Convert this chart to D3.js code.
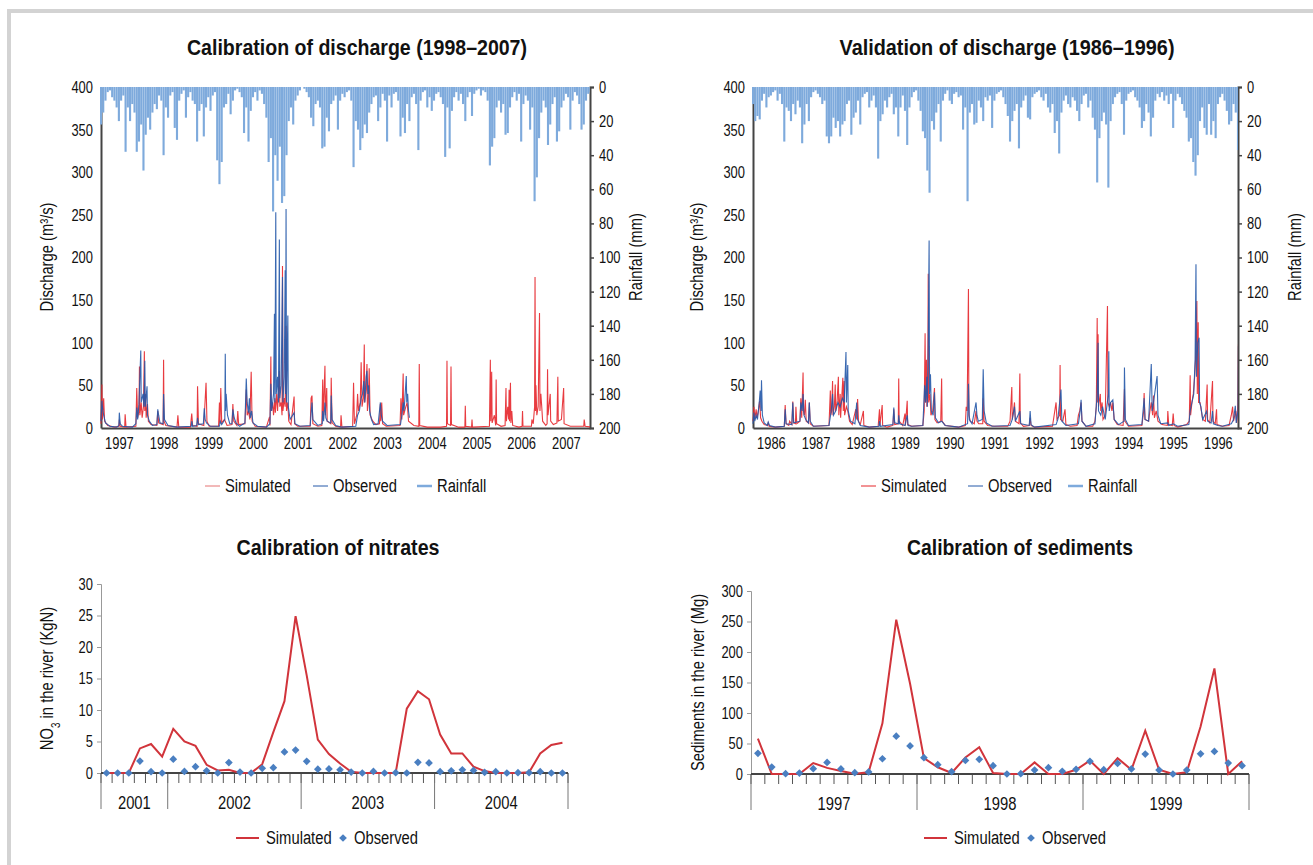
<html>
<head>
<meta charset="utf-8">
<script src="https://cdnjs.cloudflare.com/ajax/libs/d3/7.8.5/d3.min.js"></script>
<style>
  body { margin: 0; background: #fff; }
  text { font-family: "Liberation Sans", Arial, sans-serif; fill: #111; }
  .title { font-weight: bold; font-size: 22px; }
  .tick text { font-size: 17px; }
  .lab { font-size: 18px; }
</style>
</head>
<body>
<script>
// ---------- data: discharge panels ----------
var calYears = [1997, 1998, 1999, 2000, 2001, 2002, 2003, 2004, 2005, 2006, 2007];
var valYears = [1986, 1987, 1988, 1989, 1990, 1991, 1992, 1993, 1994, 1995, 1996];
var qTicks = [0, 50, 100, 150, 200, 250, 300, 350, 400];
var rainTicks = [0, 20, 40, 60, 80, 100, 120, 140, 160, 180, 200];

// rainfall (mm), one value every 0.05 year from the start
var rainCalStart = 1996.6;
var rainCal = [22,15,8,3,2,6,8,12,
  20,8,5,38,12,20,10,15,38,32,22,49,28,18,25,15,10,13,5,8,
  40,12,18,5,3,24,31,8,4,2,18,6,3,8,10,32,14,10,29,12,
  6,14,5,3,43,57,44,12,10,4,16,8,2,1,3,6,27,12,32,14,
  6,3,8,2,4,10,18,44,30,73,40,55,35,68,64,40,20,12,22,8,
  5,2,0,1,3,6,18,23,10,8,12,36,35,18,26,10,8,5,25,8,
  4,6,3,2,8,47,20,25,37,30,22,27,15,10,6,5,20,12,4,8,
  32,5,12,4,3,8,29,18,27,10,20,6,4,10,37,8,3,2,12,6,
  14,8,4,3,6,10,41,12,36,14,6,3,8,4,10,20,6,3,17,4,
  2,1,5,2,3,8,46,35,30,12,8,15,10,28,27,12,6,3,8,4,
  32,10,5,8,25,12,67,53,30,15,8,12,34,22,10,6,32,26,12,8,
  4,6,25,8,3,5,10,25,22,8,4,3,12,20,22];
var rainValStart = 1985.6;
var rainVal = [10,20,17,19,8,4,12,6,
  5,3,2,8,4,10,32,12,14,20,10,16,8,12,33,22,10,20,6,3,
  2,4,6,10,8,29,33,29,18,24,20,29,22,20,10,8,28,18,15,8,
  22,6,4,3,12,8,5,12,42,20,16,8,12,6,4,16,12,29,12,5,
  14,34,12,6,3,2,8,14,26,30,49,62,20,25,15,10,32,8,4,2,
  8,10,4,3,6,5,25,12,67,15,10,22,21,8,12,20,6,8,5,24,
  8,4,3,2,6,10,17,32,20,14,10,36,12,8,5,18,19,6,4,3,
  2,6,8,4,12,15,10,27,20,39,15,8,5,10,12,6,8,14,20,10,
  5,4,12,8,18,25,56,30,20,15,22,59,20,10,6,4,3,10,28,8,
  4,3,2,6,8,12,24,20,10,15,29,18,8,4,6,3,8,5,10,4,
  24,8,4,6,10,14,18,32,30,44,52,40,20,12,24,28,10,28,20,30,
  10,6,4,8,14,22,20,10,15,37,35];

// discharge (m3/s) digitised as [decimal year, value]
var simCal = [[1996.60,5],[1996.62,51],[1996.63,10],[1996.66,35],[1996.68,8],[1996.75,3],[1996.9,1],
  [1997.0,2],[1997.01,10],[1997.03,2],[1997.13,1],[1997.14,16],[1997.16,1],
  [1997.38,2],[1997.40,47],[1997.42,12],[1997.45,20],[1997.46,72],[1997.47,15],[1997.50,30],[1997.52,12],[1997.55,25],[1997.57,90],[1997.58,20],[1997.60,40],[1997.61,12],[1997.64,28],[1997.66,8],[1997.72,4],
  [1997.85,3],[1997.87,20],[1997.89,6],[1997.99,4],[1998.0,80],[1998.01,8],[1998.05,3],[1998.3,1],[1998.32,15],[1998.34,1],
  [1998.60,1],[1998.63,17],[1998.65,3],[1998.75,2],[1998.76,49],[1998.78,5],[1998.9,3],[1998.95,53],[1998.97,8],[1999.02,2],
  [1999.23,2],[1999.25,30],[1999.26,5],[1999.28,47],[1999.30,6],[1999.36,10],[1999.38,8],[1999.42,3],
  [1999.53,4],[1999.55,28],[1999.57,8],[1999.64,3],[1999.66,20],[1999.68,4],
  [1999.82,5],[1999.85,45],[1999.87,15],[1999.90,20],[1999.93,10],[1999.96,66],[1999.98,8],[2000.05,2],
  [2000.3,1],[2000.37,13],[2000.38,3],[2000.40,84],[2000.41,20],[2000.44,30],[2000.46,15],[2000.49,35],[2000.50,18],[2000.53,40],[2000.55,20],[2000.59,67],[2000.60,25],[2000.63,30],[2000.65,15],[2000.66,190],[2000.67,20],[2000.70,35],[2000.72,25],[2000.74,120],[2000.75,20],[2000.78,30],[2000.80,8],[2000.85,4],[2000.92,37],[2000.93,5],[2001.0,2],
  [2001.28,2],[2001.30,35],[2001.32,38],[2001.34,5],[2001.45,2],
  [2001.54,3],[2001.56,57],[2001.57,10],[2001.61,73],[2001.62,15],[2001.65,47],[2001.66,8],[2001.74,5],[2001.75,59],[2001.77,6],[2001.85,2],
  [2001.96,1],[2001.97,15],[2001.99,1],
  [2002.23,2],[2002.25,53],[2002.27,5],[2002.32,15],[2002.34,40],[2002.36,20],[2002.40,30],[2002.42,77],[2002.44,25],[2002.47,35],[2002.49,98],[2002.50,30],[2002.53,45],[2002.55,75],[2002.56,20],[2002.58,30],[2002.60,70],[2002.62,15],[2002.68,8],[2002.75,4],[2002.83,5],[2002.85,28],[2002.86,8],[2002.88,30],[2002.90,5],[2002.98,2],
  [2003.29,3],[2003.31,35],[2003.33,10],[2003.36,64],[2003.37,15],[2003.42,25],[2003.45,30],[2003.48,8],[2003.6,3],
  [2003.71,2],[2003.72,75],[2003.73,3],[2003.9,1],[2004.2,1],
  [2004.33,2],[2004.34,79],[2004.35,5],[2004.42,3],[2004.43,72],[2004.44,4],[2004.6,1],
  [2004.74,1],[2004.75,26],[2004.76,2],[2004.89,1],[2004.90,10],[2004.91,1],
  [2005.29,2],[2005.31,80],[2005.32,8],[2005.34,66],[2005.35,6],[2005.40,15],[2005.43,3],[2005.44,57],[2005.45,5],[2005.55,2],
  [2005.64,3],[2005.66,47],[2005.67,8],[2005.70,25],[2005.72,10],[2005.73,45],[2005.74,8],[2005.76,53],[2005.77,6],[2005.79,20],[2005.81,3],[2005.95,1],
  [2006.02,2],[2006.03,20],[2006.04,2],[2006.23,2],[2006.24,10],[2006.27,5],[2006.30,25],[2006.31,177],[2006.32,20],[2006.33,50],[2006.35,15],[2006.38,25],[2006.41,135],[2006.42,20],[2006.44,40],[2006.46,25],[2006.48,8],[2006.55,3],
  [2006.58,5],[2006.59,69],[2006.60,15],[2006.62,25],[2006.65,40],[2006.66,8],[2006.72,4],[2006.80,6],[2006.82,60],[2006.83,8],[2006.90,10],[2006.95,47],[2006.96,5],[2007.1,2],
  [2007.40,2],[2007.41,10],[2007.43,2],[2007.60,1]];
var obsCal = [[1996.60,8],[1996.62,32],[1996.63,25],[1996.66,15],[1996.70,6],[1996.8,2],[1996.95,1],
  [1997.0,3],[1997.01,18],[1997.03,5],[1997.08,2],[1997.3,1],
  [1997.38,5],[1997.40,24],[1997.42,10],[1997.45,28],[1997.47,60],[1997.49,91],[1997.50,30],[1997.54,40],[1997.56,25],[1997.58,79],[1997.59,25],[1997.63,49],[1997.64,15],[1997.68,8],[1997.75,3],
  [1997.85,4],[1997.87,22],[1997.89,15],[1997.92,6],[1997.99,5],[1998.0,40],[1998.02,10],[1998.1,3],[1998.3,1],
  [1998.62,2],[1998.63,8],[1998.65,2],[1998.74,3],[1998.76,12],[1998.78,4],[1998.89,5],[1998.91,23],[1998.93,10],[1998.96,6],[1999.05,2],
  [1999.25,2],[1999.27,8],[1999.30,4],[1999.37,10],[1999.38,87],[1999.39,20],[1999.40,40],[1999.43,15],[1999.48,5],
  [1999.53,5],[1999.55,22],[1999.58,12],[1999.62,6],[1999.66,4],[1999.7,2],
  [1999.82,6],[1999.85,58],[1999.87,30],[1999.90,18],[1999.92,35],[1999.94,12],[1999.97,20],[2000.0,6],[2000.1,2],
  [2000.3,1],[2000.38,5],[2000.40,52],[2000.42,20],[2000.46,40],[2000.48,134],[2000.49,30],[2000.51,253],[2000.52,40],[2000.55,60],[2000.57,30],[2000.59,221],[2000.60,35],[2000.63,50],[2000.66,177],[2000.67,30],[2000.70,60],[2000.72,185],[2000.73,40],[2000.74,257],[2000.75,30],[2000.78,132],[2000.79,25],[2000.83,10],[2000.92,18],[2000.94,5],[2001.05,2],
  [2001.28,3],[2001.32,30],[2001.34,10],[2001.45,3],
  [2001.55,5],[2001.56,20],[2001.58,8],[2001.61,30],[2001.63,12],[2001.66,8],[2001.74,6],[2001.75,38],[2001.77,10],[2001.85,3],[2001.98,1],
  [2002.3,2],[2002.34,15],[2002.38,20],[2002.42,35],[2002.45,40],[2002.48,55],[2002.50,30],[2002.53,60],[2002.55,67],[2002.57,40],[2002.59,50],[2002.61,20],[2002.65,10],[2002.7,4],[2002.80,5],[2002.85,30],[2002.87,15],[2002.90,8],[2003.0,3],
  [2003.3,4],[2003.33,15],[2003.36,30],[2003.38,20],[2003.43,61],[2003.44,30],[2003.46,40],[2003.48,20],[2003.50,12]];
var simVal = [[1985.60,8],[1985.62,25],[1985.64,10],[1985.67,22],[1985.69,12],[1985.72,20],[1985.75,32],[1985.77,12],[1985.80,8],[1985.85,4],[1985.92,3],[1985.94,6],[1985.96,2],[1986.1,1],
  [1986.30,2],[1986.32,27],[1986.34,5],[1986.40,3],[1986.42,8],[1986.47,4],[1986.49,31],[1986.51,6],[1986.55,5],[1986.56,25],[1986.58,5],[1986.65,8],[1986.67,35],[1986.69,12],[1986.72,65],[1986.73,20],[1986.75,15],[1986.77,33],[1986.79,8],[1986.84,6],[1986.86,30],[1986.88,5],[1986.95,2],
  [1987.30,3],[1987.33,44],[1987.34,15],[1987.36,20],[1987.38,55],[1987.39,15],[1987.42,25],[1987.44,51],[1987.45,20],[1987.48,30],[1987.51,60],[1987.52,15],[1987.55,40],[1987.56,12],[1987.61,59],[1987.62,20],[1987.64,55],[1987.65,15],[1987.69,25],[1987.72,20],[1987.76,8],[1987.82,4],[1987.90,22],[1987.92,10],[1987.94,34],[1987.96,8],[1988.0,4],[1988.07,20],[1988.08,3],[1988.2,1],
  [1988.40,2],[1988.43,22],[1988.44,3],[1988.49,27],[1988.50,3],[1988.6,1],
  [1988.73,3],[1988.75,22],[1988.77,4],[1988.85,5],[1988.86,58],[1988.87,8],[1988.95,3],[1989.0,17],[1989.01,3],[1989.05,32],[1989.06,4],[1989.15,2],
  [1989.40,3],[1989.43,20],[1989.45,111],[1989.46,30],[1989.48,80],[1989.49,25],[1989.51,40],[1989.52,181],[1989.53,30],[1989.56,40],[1989.58,15],[1989.62,20],[1989.66,47],[1989.67,10],[1989.72,6],[1989.80,8],[1989.82,58],[1989.83,8],[1989.9,3],
  [1990.2,1],[1990.35,3],[1990.37,25],[1990.39,20],[1990.42,163],[1990.43,15],[1990.46,8],[1990.55,5],[1990.59,20],[1990.61,8],[1990.65,5],[1990.74,5],[1990.75,35],[1990.77,8],[1990.85,3],[1991.0,2],
  [1991.30,2],[1991.35,8],[1991.39,48],[1991.40,10],[1991.43,20],[1991.45,30],[1991.47,8],[1991.55,5],[1991.57,64],[1991.58,6],[1991.65,2],[1991.78,3],[1991.80,12],[1991.82,3],[1991.9,1],
  [1992.30,2],[1992.38,30],[1992.40,10],[1992.46,15],[1992.47,74],[1992.48,10],[1992.53,8],[1992.58,22],[1992.60,4],[1992.7,2],
  [1992.85,3],[1992.88,15],[1992.91,20],[1992.94,30],[1992.96,8],[1993.05,2],
  [1993.2,2],[1993.25,8],[1993.28,25],[1993.30,129],[1993.31,30],[1993.32,110],[1993.33,25],[1993.37,40],[1993.38,20],[1993.41,30],[1993.43,10],[1993.48,15],[1993.53,143],[1993.54,30],[1993.57,25],[1993.60,30],[1993.63,20],[1993.65,30],[1993.68,10],[1993.75,4],[1993.88,3],[1993.91,46],[1993.92,8],[1994.0,2],
  [1994.30,3],[1994.34,20],[1994.35,41],[1994.37,10],[1994.45,8],[1994.48,20],[1994.51,30],[1994.54,15],[1994.56,38],[1994.58,12],[1994.62,20],[1994.66,8],[1994.75,4],[1994.87,3],[1994.88,20],[1994.90,4],[1994.98,3],[1995.0,17],[1995.02,3],[1995.1,1],
  [1995.30,4],[1995.36,8],[1995.38,62],[1995.39,15],[1995.42,30],[1995.45,40],[1995.48,60],[1995.50,80],[1995.53,149],[1995.54,40],[1995.56,124],[1995.57,30],[1995.60,30],[1995.63,20],[1995.66,10],[1995.72,8],[1995.76,51],[1995.77,10],[1995.82,6],[1995.88,55],[1995.89,8],[1995.94,5],[1995.97,22],[1995.98,4],[1996.1,2],
  [1996.25,3],[1996.30,15],[1996.33,25],[1996.35,8],[1996.40,20],[1996.42,6],[1996.45,30],[1996.46,98],[1996.47,60]];
var obsVal = [[1985.60,5],[1985.62,18],[1985.64,8],[1985.67,15],[1985.70,10],[1985.74,30],[1985.76,44],[1985.78,20],[1985.79,56],[1985.81,15],[1985.85,6],[1985.92,3],[1985.94,7],[1985.97,3],[1986.1,1],
  [1986.30,2],[1986.32,22],[1986.34,5],[1986.47,4],[1986.49,30],[1986.51,6],[1986.65,8],[1986.67,30],[1986.70,20],[1986.72,40],[1986.74,15],[1986.78,10],[1986.84,6],[1986.86,30],[1986.88,8],[1986.95,2],
  [1987.30,3],[1987.35,20],[1987.38,40],[1987.40,15],[1987.45,20],[1987.50,30],[1987.55,25],[1987.60,35],[1987.64,30],[1987.68,89],[1987.69,30],[1987.72,74],[1987.73,20],[1987.78,8],[1987.88,5],[1987.92,30],[1987.94,10],[1988.0,3],[1988.2,1],
  [1988.42,2],[1988.43,8],[1988.45,2],[1988.73,4],[1988.75,24],[1988.77,6],[1988.85,5],[1988.86,15],[1988.88,5],[1989.0,3],[1989.05,15],[1989.07,3],[1989.15,2],
  [1989.40,3],[1989.44,50],[1989.46,30],[1989.49,60],[1989.50,25],[1989.52,100],[1989.54,220],[1989.55,40],[1989.57,63],[1989.59,20],[1989.63,15],[1989.66,42],[1989.68,12],[1989.75,6],[1989.82,8],[1989.9,3],
  [1990.2,1],[1990.40,5],[1990.42,52],[1990.44,10],[1990.50,5],[1990.59,30],[1990.61,15],[1990.64,8],[1990.73,10],[1990.75,69],[1990.77,20],[1990.82,6],[1990.95,2],
  [1991.35,3],[1991.40,10],[1991.45,25],[1991.47,8],[1991.57,20],[1991.59,5],[1991.78,3],[1991.80,20],[1991.82,4],[1991.9,1],
  [1992.38,4],[1992.42,10],[1992.49,45],[1992.51,8],[1992.6,3],
  [1992.88,5],[1992.92,20],[1992.94,33],[1992.96,8],[1993.05,2],
  [1993.25,5],[1993.30,40],[1993.32,100],[1993.33,20],[1993.38,15],[1993.42,25],[1993.48,10],[1993.55,40],[1993.56,90],[1993.57,20],[1993.60,30],[1993.65,33],[1993.68,10],[1993.78,4],[1993.90,8],[1993.91,71],[1993.93,10],[1994.0,3],
  [1994.30,4],[1994.35,35],[1994.37,10],[1994.45,8],[1994.51,75],[1994.53,20],[1994.56,30],[1994.64,61],[1994.66,15],[1994.72,5],[1994.88,6],[1994.90,3],[1995.0,5],[1995.1,2],
  [1995.35,4],[1995.38,20],[1995.42,30],[1995.46,40],[1995.49,80],[1995.51,192],[1995.52,60],[1995.55,100],[1995.58,106],[1995.59,30],[1995.62,25],[1995.66,10],[1995.75,20],[1995.77,8],[1995.85,6],[1995.88,20],[1995.90,5],[1996.0,3],[1996.1,2],
  [1996.30,5],[1996.35,10],[1996.39,26],[1996.41,6],[1996.45,20],[1996.46,96],[1996.47,50]];

// ---------- data: monthly panels ----------
var nitYearLabels = ["2001", "2002", "2003", "2004"];
var nitYearMonths = [6, 12, 12, 12];
var nitTicks = [0, 5, 10, 15, 20, 25, 30];
var nitSim = [0,0,0,3.9,4.6,2.6,7.0,5.0,4.3,1.3,0.4,0.5,0,0,1.4,6.5,11.4,24.9,15.5,5.3,3.0,1.5,0.2,0,0,0,0,10.2,13.0,11.7,6.1,3.1,3.1,1.0,0.3,0,0,0,0.1,3.1,4.45,4.8];
var nitObs = [0,0,0,1.9,0.2,0,2.2,0.25,1.0,0.35,0,1.65,0.15,0,0.75,0.85,3.35,3.65,1.85,0.6,0.65,0.5,0.15,0,0.25,0,0.05,0,1.7,1.6,0.2,0.35,0.5,0.4,0.1,0.2,0,0.05,0.05,0.2,0,0];

var sedYearLabels = ["1997", "1998", "1999"];
var sedYearMonths = [12, 12, 12];
var sedTicks = [0, 50, 100, 150, 200, 250, 300];
var sedSim = [58,0,0,0,18,10,5,0.5,2.7,83,253,148,26,11,1.6,27,44,1.6,0,0,19,0,0,7,22,0,26,7,71,7,0,3,78,173,0,21];
var sedObs = [34,11.4,0.5,1.6,8.7,19,8.2,2.2,3.3,25,62,46,26.7,15.2,3.8,22.3,24,13.6,0,0.5,6.5,10.3,4.4,7.6,20.7,7,17.4,8.2,32.7,6.5,0,6.5,33,37,18,13.6];

var W = 1313, H = 865;
var red = "#e5262b", blue = "#2458a8", rainBlue = "#7eaadc", lineRed = "#d1343b", diamond = "#4a7fc1";

var svg = d3.select("body").append("svg").attr("width", W).attr("height", H);

svg.append("rect")
  .attr("x", 9).attr("y", 11).attr("width", W + 20).attr("height", H + 20)
  .attr("fill", "none").attr("stroke", "#d3d3d3").attr("stroke-width", 4);

function dischargePanel(opt) {
  var x = d3.scaleLinear().domain(opt.xDomain).range([opt.left, opt.right]);
  var y = d3.scaleLinear().domain([0, 400]).range([428, 87]);
  var yr = d3.scaleLinear().domain([0, 200]).range([87, 428]);
  var g = svg.append("g");

  g.append("text").attr("class", "title").attr("x", opt.titleX).attr("y", 55)
    .attr("text-anchor", "middle").attr("data-w", opt.titleW).text(opt.title);

  var clipId = "clip" + opt.left;
  g.append("clipPath").attr("id", clipId).append("rect")
    .attr("x", opt.left - 1).attr("y", 80).attr("width", opt.right - opt.left + 1).attr("height", 348);

  // axes
  var ay = g.append("g").attr("transform", "translate(" + opt.left + ",0)")
    .call(d3.axisLeft(y).tickValues(qTicks).tickSize(0).tickPadding(8));
  var ar = g.append("g").attr("transform", "translate(" + opt.right + ",0)")
    .call(d3.axisRight(yr).tickValues(rainTicks).tickSize(4).tickPadding(5));
  var ax = g.append("g").attr("transform", "translate(0,428)")
    .call(d3.axisBottom(x).tickValues(opt.years).tickFormat(d3.format("d")).tickSize(0).tickPadding(9));
  [ay, ar, ax].forEach(function (a) {
    a.select(".domain").attr("stroke", "#444").attr("stroke-width", 2);
    a.selectAll(".tick line").attr("stroke", "#444").attr("stroke-width", 1.5);
    a.selectAll(".tick text").attr("fill", "#111");
  });

  var plot = g.append("g").attr("clip-path", "url(#" + clipId + ")");

  // rainfall bars hanging from the top
  var step = 0.05;
  var bw = (x(opt.rainStart + step) - x(opt.rainStart)) * 0.95;
  plot.selectAll("rect.rain").data(opt.rain).enter().append("rect")
    .attr("class", "rain")
    .attr("x", function (d, i) { return x(opt.rainStart + i * step) - bw / 2; })
    .attr("y", yr(0))
    .attr("width", bw)
    .attr("height", function (d) { return yr(d) - yr(0); })
    .attr("fill", rainBlue);

  var line = d3.line().x(function (d) { return x(d[0]); }).y(function (d) { return y(d[1]); });
  plot.append("path").attr("d", line(opt.sim)).attr("fill", "none")
    .attr("stroke", red).attr("stroke-width", 1.1).attr("stroke-opacity", 0.9);
  plot.append("path").attr("d", line(opt.obs)).attr("fill", "none")
    .attr("stroke", blue).attr("stroke-width", 1.1).attr("stroke-opacity", 0.9);

  g.append("text").attr("class", "lab")
    .attr("transform", "translate(" + opt.yLabX + ",257) rotate(-90)")
    .attr("text-anchor", "middle").attr("dy", "0.35em").text("Discharge (m³/s)");
  g.append("text").attr("class", "lab")
    .attr("transform", "translate(" + opt.rLabX + ",257) rotate(-90)")
    .attr("text-anchor", "middle").attr("dy", "0.35em").text("Rainfall (mm)");

  // legend
  var leg = [["Simulated", opt.legSimColor, 1], ["Observed", blue, 1], ["Rainfall", rainBlue, 2.5]];
  leg.forEach(function (l, i) {
    var lx = opt.legX[i];
    g.append("line").attr("x1", lx).attr("x2", lx + 15).attr("y1", 486).attr("y2", 486)
      .attr("stroke", l[1]).attr("stroke-width", l[2]);
    g.append("text").attr("class", "lab").attr("x", lx + 20).attr("y", 492).text(l[0]);
  });
}

dischargePanel({
  title: "Calibration of discharge (1998–2007)", titleX: 357, titleW: 340,
  left: 101, right: 590, xDomain: [1996.6, 1996.6 + 489 / 44.7], years: calYears,
  rain: rainCal, rainStart: rainCalStart, sim: simCal, obs: obsCal,
  yLabX: 47, rLabX: 636, legSimColor: "#e57373", legX: [205, 313, 417]
});
dischargePanel({
  title: "Validation of discharge (1986–1996)", titleX: 1007, titleW: 335,
  left: 753, right: 1238, xDomain: [1985.6, 1985.6 + 485 / 44.7], years: valYears,
  rain: rainVal, rainStart: rainValStart, sim: simVal, obs: obsVal,
  yLabX: 697, rLabX: 1295, legSimColor: red, legX: [861, 968, 1068]
});

function diamondPath() {
  return d3.symbol().type(d3.symbolSquare).size(30)();
}

function monthlyPanel(opt) {
  var n = d3.sum(opt.months);
  var x = d3.scaleBand().domain(d3.range(n)).range([opt.left, opt.right]);
  var y = d3.scaleLinear().domain([0, opt.max]).range([opt.bottom, opt.top]);
  var g = svg.append("g");

  g.append("text").attr("class", "title").attr("x", opt.titleX).attr("y", 555)
    .attr("text-anchor", "middle").attr("data-w", opt.titleW).text(opt.title);

  var ay = g.append("g").attr("transform", "translate(" + opt.left + ",0)")
    .call(d3.axisLeft(y).tickValues(opt.ticks).tickSize(4).tickPadding(4));
  ay.select(".domain").attr("stroke", "#999");
  ay.selectAll(".tick line").attr("stroke", "#999");

  // month ticks
  g.selectAll("line.mt").data(d3.range(n + 1)).enter().append("line")
    .attr("x1", function (d) { return opt.left + d * x.step(); })
    .attr("x2", function (d) { return opt.left + d * x.step(); })
    .attr("y1", opt.bottom).attr("y2", opt.bottom + 10)
    .attr("stroke", "#555").attr("stroke-width", 1);
  // year separators and labels
  var starts = [0];
  opt.months.forEach(function (m, i) { starts.push(starts[i] + m); });
  g.selectAll("line.yt").data(starts).enter().append("line")
    .attr("x1", function (d) { return opt.left + d * x.step(); })
    .attr("x2", function (d) { return opt.left + d * x.step(); })
    .attr("y1", opt.bottom).attr("y2", opt.bottom + 36)
    .attr("stroke", "#777").attr("stroke-width", 1);
  g.selectAll("text.yl").data(opt.labels).enter().append("text")
    .attr("class", "lab")
    .attr("x", function (d, i) { return opt.left + (starts[i] + opt.months[i] / 2) * x.step(); })
    .attr("y", opt.bottom + 36).attr("text-anchor", "middle").text(function (d) { return d; });
  g.append("line").attr("x1", opt.left).attr("x2", opt.right)
    .attr("y1", opt.bottom).attr("y2", opt.bottom).attr("stroke", "#444").attr("stroke-width", 2);

  var cx = function (d, i) { return x(i) + x.bandwidth() / 2; };
  g.append("path")
    .attr("d", d3.line().x(cx).y(function (d) { return y(d); })(opt.sim))
    .attr("fill", "none").attr("stroke", lineRed).attr("stroke-width", 2);
  g.selectAll("path.dia").data(opt.obs).enter().append("path")
    .attr("d", diamondPath())
    .attr("transform", function (d, i) { return "translate(" + cx(d, i) + "," + y(d) + ") rotate(45)"; })
    .attr("fill", diamond);

  var lab = g.append("text").attr("class", "lab")
    .attr("transform", "translate(" + opt.yLabX + "," + ((opt.top + opt.bottom) / 2) + ") rotate(-90)")
    .attr("text-anchor", "middle").attr("dy", "0.35em");
  opt.yLab(lab);

  g.append("line").attr("x1", opt.legX).attr("x2", opt.legX + 23).attr("y1", 838).attr("y2", 838)
    .attr("stroke", lineRed).attr("stroke-width", 2);
  g.append("text").attr("class", "lab").attr("x", opt.legX + 30).attr("y", 844).text("Simulated");
  g.append("path").attr("d", diamondPath())
    .attr("transform", "translate(" + (opt.legX + 107) + ",838) rotate(45)").attr("fill", diamond);
  g.append("text").attr("class", "lab").attr("x", opt.legX + 118).attr("y", 844).text("Observed");
}

monthlyPanel({
  title: "Calibration of nitrates", titleX: 338, titleW: 203,
  left: 101, right: 568, top: 584, bottom: 773, max: 30, ticks: nitTicks,
  months: nitYearMonths, labels: nitYearLabels, sim: nitSim, obs: nitObs,
  yLabX: 47, legX: 236,
  yLab: function (t) {
    t.append("tspan").text("NO");
    t.append("tspan").attr("baseline-shift", "sub").attr("font-size", "12px").text("3");
    t.append("tspan").text(" in the river (KgN)");
  }
});
monthlyPanel({
  title: "Calibration of sediments", titleX: 1020, titleW: 226,
  left: 751, right: 1249, top: 591, bottom: 774, max: 300, ticks: sedTicks,
  months: sedYearMonths, labels: sedYearLabels, sim: sedSim, obs: sedObs,
  yLabX: 698, legX: 924,
  yLab: function (t) { t.text("Sediments in the river (Mg)"); }
});

// squeeze every label to a condensed width
svg.selectAll("text").each(function () {
  var t = d3.select(this);
  var f = this.parentNode.classList.contains("tick") ? 0.76 : 0.82;
  var w = t.attr("data-w") ? +t.attr("data-w") : this.getComputedTextLength() * f;
  t.attr("textLength", w).attr("lengthAdjust", "spacingAndGlyphs");
});
</script>
</body>
</html>
